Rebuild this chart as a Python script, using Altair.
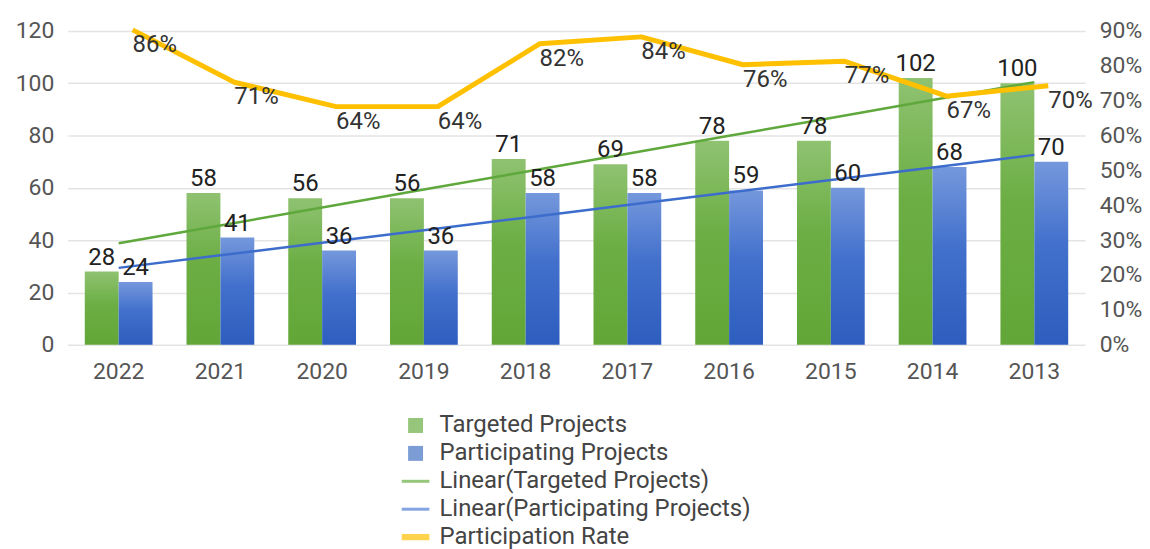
import altair as alt
import pandas as pd

years = ["2022", "2021", "2020", "2019", "2018", "2017", "2016", "2015", "2014", "2013"]
targeted = [28, 58, 56, 56, 71, 69, 78, 78, 102, 100]
participating = [24, 41, 36, 36, 58, 58, 59, 60, 68, 70]
rate = [0.86, 0.71, 0.64, 0.64, 0.82, 0.84, 0.76, 0.77, 0.67, 0.70]
rate_labels = ["86%", "71%", "64%", "64%", "82%", "84%", "76%", "77%", "67%", "70%"]
legend_items = ["Targeted Projects", "Participating Projects", "Linear(Targeted Projects)",
                "Linear(Participating Projects)", "Participation Rate"]
left_ticks = [0, 20, 40, 60, 80, 100, 120]
right_ticks = [0.0, 0.1, 0.2, 0.3, 0.4, 0.5, 0.6, 0.7, 0.8, 0.9]

GREEN = "#6aad45"
BLUE = "#4472c4"
ORANGE = "#ffc000"
FONT = "Roboto"

df = pd.DataFrame({"year": years, "targeted": targeted, "participating": participating,
                   "rate": rate, "rate_label": rate_labels})

W, H = 1021, 315
xs = alt.X("year:N", sort=years,
           scale=alt.Scale(domain=years, paddingInner=0.3, paddingOuter=0.15),
           axis=alt.Axis(title=None, labelAngle=0, domain=False, ticks=False,
                         labelPadding=16, labelFontSize=23, labelColor="#555555",
                         labelFont=FONT))

yleft_scale = alt.Scale(domain=[0, 120])
yleft_axis = alt.Axis(title=None, values=left_ticks, domain=False, ticks=False,
                      grid=True, gridColor="#e4e4e4", gridWidth=1.5, labelPadding=14,
                      labelFontSize=23, labelColor="#555555", labelFont=FONT,
                      labelOverlap=False)

base = alt.Chart(df)

grad_green = alt.Gradient(gradient="linear", x1=0, x2=0, y1=0, y2=1,
                          stops=[alt.GradientStop(color="#8fc271", offset=0),
                                 alt.GradientStop(color="#6cae44", offset=0.45),
                                 alt.GradientStop(color="#62a637", offset=1)])
grad_blue = alt.Gradient(gradient="linear", x1=0, x2=0, y1=0, y2=1,
                         stops=[alt.GradientStop(color="#7598dc", offset=0),
                                alt.GradientStop(color="#4270cc", offset=0.45),
                                alt.GradientStop(color="#2d5dbe", offset=1)])

bars_t = base.mark_bar(color=grad_green, width=34, xOffset=-17).encode(
    x=xs, y=alt.Y("targeted:Q", scale=yleft_scale, axis=yleft_axis))
bars_p = base.mark_bar(color=grad_blue, width=34, xOffset=17).encode(
    x=xs, y=alt.Y("participating:Q", scale=yleft_scale, axis=yleft_axis))

txt_t = base.mark_text(font=FONT, fontSize=24, color="#222222", baseline="bottom",
                       dy=-2, xOffset=-17).encode(
    x=xs, y=alt.Y("targeted:Q", scale=yleft_scale, axis=yleft_axis), text="targeted:Q")
txt_p = base.mark_text(font=FONT, fontSize=24, color="#222222", baseline="bottom",
                       dy=-2, xOffset=17).encode(
    x=xs, y=alt.Y("participating:Q", scale=yleft_scale, axis=yleft_axis),
    text="participating:Q")


def trend(field, color):
    # least-squares linear trend computed with Vega-Lite transforms
    return (base.transform_window(idx="row_number()")
            .transform_joinaggregate(mx="mean(idx)", my=f"mean({field})")
            .transform_calculate(dxy=f"(datum.idx - datum.mx) * (datum['{field}'] - datum.my)",
                                 dxx="(datum.idx - datum.mx) * (datum.idx - datum.mx)")
            .transform_joinaggregate(sxy="sum(dxy)", sxx="sum(dxx)")
            .transform_calculate(fit="datum.my + datum.sxy / datum.sxx * (datum.idx - datum.mx)")
            .mark_line(color=color, strokeWidth=2.5)
            .encode(x=xs, y=alt.Y("fit:Q", scale=yleft_scale, axis=yleft_axis)))


trend_t = trend("targeted", "#5fa83c")
trend_p = trend("participating", "#3d6dcc")

left = alt.layer(bars_t, bars_p, trend_t, trend_p, txt_t, txt_p)

yright_scale = alt.Scale(domain=[0, 0.9])
yright_axis = alt.Axis(title=None, orient="right", format=".0%",
                       values=right_ticks, domain=False, ticks=False,
                       grid=False, labelPadding=14, labelFontSize=23,
                       labelColor="#555555", labelFont=FONT, labelOverlap=False,
                       tickCount=10)

rate_line = base.mark_line(color=ORANGE, strokeWidth=5, strokeJoin="round",
                           strokeCap="butt", xOffset=14, yOffset=-15).encode(
    x=xs, y=alt.Y("rate:Q", scale=yright_scale, axis=yright_axis))
rate_txt = base.mark_text(font=FONT, fontSize=24, color="#333333", align="left",
                          baseline="middle", xOffset=14).encode(
    x=xs, y=alt.Y("rate:Q", scale=yright_scale, axis=yright_axis), text="rate_label:N")
right = alt.layer(rate_line, rate_txt)

legend_df = pd.DataFrame({"series": legend_items})
sq = "square"
thin = "M-1.85,-0.2H1.85V0.2H-1.85Z"
thick = "M-1.85,-0.42H1.85V0.42H-1.85Z"
legend_layer = alt.Chart(legend_df).transform_filter("false").mark_point(
    filled=True).encode(
    color=alt.Color("series:N",
                    scale=alt.Scale(domain=legend_items,
                                    range=[GREEN, BLUE, "#6aad45", "#4f7fd4", ORANGE]),
                    legend=alt.Legend(title=None, orient="none", legendX=337, legendY=384,
                                      direction="vertical", symbolSize=225,
                                      symbolStrokeWidth=0, labelFontSize=24,
                                      labelFont=FONT, labelColor="#444444",
                                      labelOffset=12, rowPadding=4,
                                      labelLimit=400)),
    shape=alt.Shape("series:N",
                    scale=alt.Scale(domain=legend_items,
                                    range=[sq, sq, thin, thin, thick]),
                    legend=None))

chart = alt.layer(left, right, legend_layer).resolve_scale(
    y="independent").properties(
    width=W, height=H, padding={"left": 7, "top": 11, "right": 0, "bottom": 5}
).configure_view(stroke=None)

chart.save("out.html", embed_options={"renderer": "svg", "actions": False})
